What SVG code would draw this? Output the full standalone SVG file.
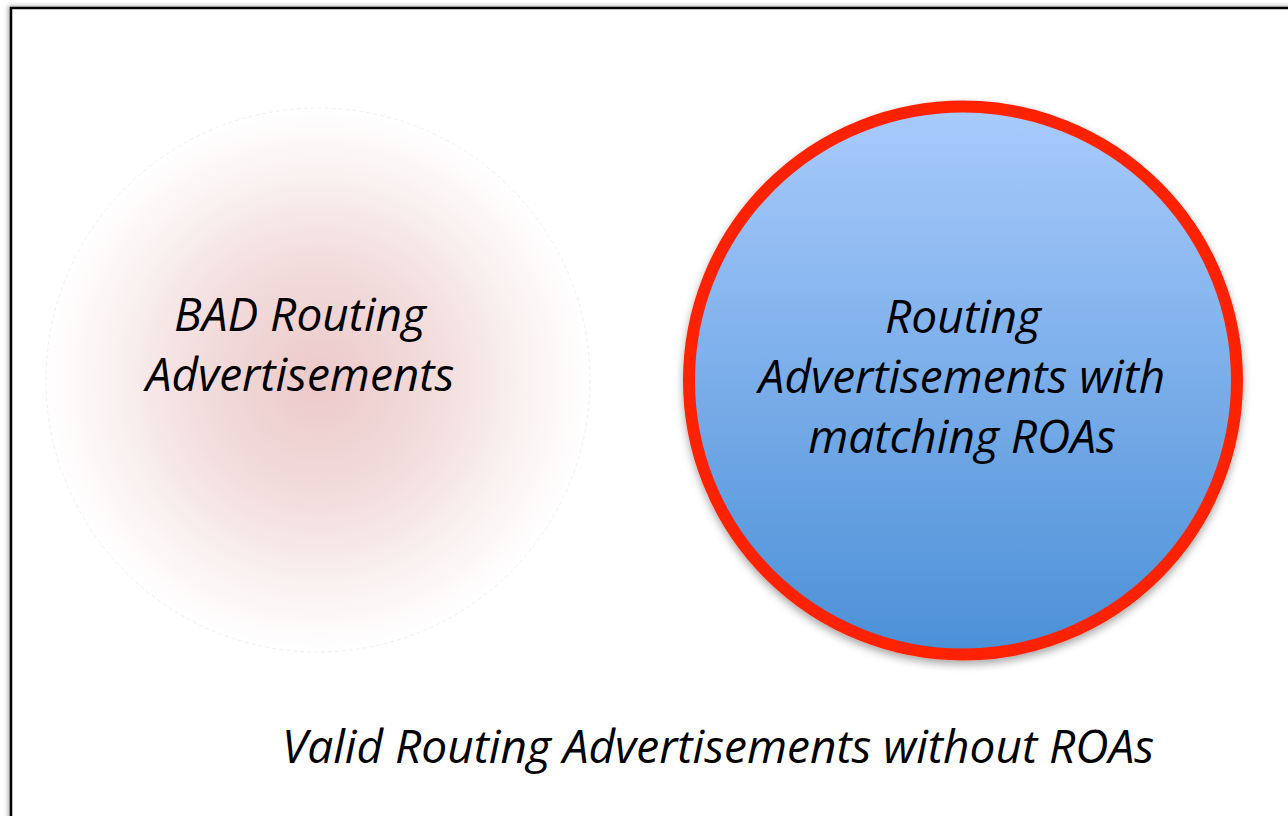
<svg xmlns="http://www.w3.org/2000/svg" width="1288" height="816" viewBox="0 0 1288 816">
<defs>
<style>
.t{font-family:"Open Sans","Noto Sans",sans-serif;font-style:italic;font-size:46px;fill:#000;text-anchor:middle}
</style>
<radialGradient id="pink" cx="0.5" cy="0.5" r="0.5">
<stop offset="0" stop-color="#ecc9c9"/>
<stop offset="0.45" stop-color="#f3dddd"/>
<stop offset="0.8" stop-color="#fbf4f4"/>
<stop offset="1" stop-color="#ffffff"/>
</radialGradient>
<linearGradient id="blue" x1="0" y1="0" x2="0" y2="1">
<stop offset="0" stop-color="#a9cbfc"/>
<stop offset="1" stop-color="#4b90d7"/>
</linearGradient>
<filter id="sh" x="-20%" y="-20%" width="140%" height="140%">
<feDropShadow dx="0" dy="4" stdDeviation="4" flood-color="#000" flood-opacity="0.35"/>
</filter>
<filter id="fsh" x="-5%" y="-5%" width="110%" height="110%">
<feDropShadow dx="-2" dy="-1" stdDeviation="2" flood-color="#000" flood-opacity="0.3"/>
</filter>
</defs>
<rect width="1288" height="816" fill="#fff"/>
<rect id="frame" x="11" y="8" width="1300" height="840" fill="#fff" stroke="#000" stroke-width="2.5" filter="url(#fsh)"/>
<g id="bad">
<circle cx="318" cy="380" r="272" fill="url(#pink)" stroke="#f0f0f0" stroke-width="1" stroke-dasharray="4 3"/>
<text class="t" x="300" y="331">BAD Routing</text>
<text class="t" x="300" y="391">Advertisements</text>
</g>
<g id="roa">
<circle cx="963" cy="380.5" r="274" fill="url(#blue)" stroke="#ff2200" stroke-width="12" filter="url(#sh)"/>
<text class="t" x="963" y="333">Routing</text>
<text class="t" x="962" y="393">Advertisements with</text>
<text class="t" x="962" y="453">matching ROAs</text>
</g>
<g id="valid">
<text class="t" x="718" y="763">Valid Routing Advertisements without ROAs</text>
</g>
<g id="connectors"/>
</svg>
